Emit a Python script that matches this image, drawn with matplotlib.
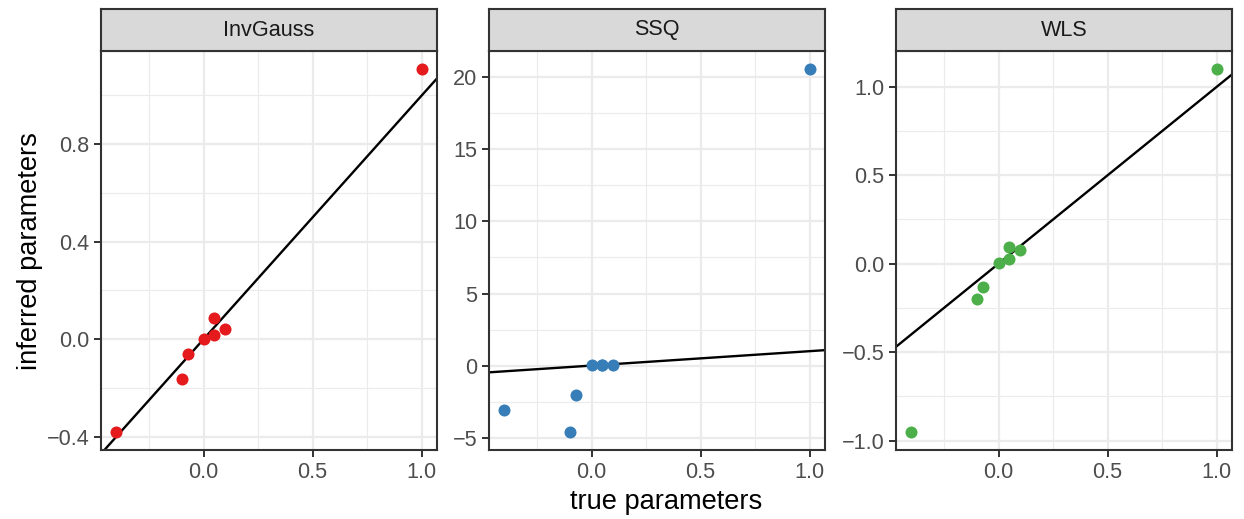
import matplotlib
matplotlib.use("Agg")
import matplotlib.pyplot as plt
from matplotlib.ticker import MultipleLocator, FuncFormatter

plt.rcParams['font.family'] = ['Liberation Sans', 'DejaVu Sans']

# ---- data ----
panels = ["InvGauss", "SSQ", "WLS"]
true_params = [-0.4, -0.1, -0.07, 0.0, 0.05, 0.05, 0.1, 1.0]
invgauss = [-0.38, -0.163, -0.059, 0.001, 0.089, 0.019, 0.041, 1.108]
ssq = [-3.09, -4.6, -2.06, 0.02, 0.02, 0.02, 0.02, 20.57]
wls = [-0.951, -0.20, -0.134, 0.006, 0.094, 0.024, 0.075, 1.10]
colors = ["#E41A1C", "#377EB8", "#4DAF4A"]
y_major = [0.4, 5, 0.5]
y_minor = [0.2, 2.5, 0.25]
y_fmt = ["%.1f", "%d", "%.1f"]

W, H = 1244, 519
fig = plt.figure(figsize=(W / 100, H / 100), dpi=100)

lefts = [101, 489, 896]
pw = 336
ptop, pbot = 51, 450
stop = 9

tick_fs = 15.6
title_fs = 19.6
edge = "#333333"

def expand(lo, hi, f=0.05):
    r = hi - lo
    return lo - f * r, hi + f * r

def make_fmt(fmt):
    def f(v, pos):
        if abs(v) < 1e-9:
            v = 0.0
        s = fmt % v
        return s.replace("-", "\u2212")
    return FuncFormatter(f)

for i, (name, yv) in enumerate(zip(panels, [invgauss, ssq, wls])):
    x0 = lefts[i]
    ax = fig.add_axes([x0 / W, (H - pbot) / H, pw / W, (pbot - ptop) / H])
    ax.set_facecolor("white")
    ax.set_xlim(*expand(min(true_params), max(true_params)))
    ax.set_ylim(*expand(min(yv), max(yv)))
    ax.xaxis.set_major_locator(MultipleLocator(0.5))
    ax.xaxis.set_minor_locator(MultipleLocator(0.25))
    ax.yaxis.set_major_locator(MultipleLocator(y_major[i]))
    ax.yaxis.set_minor_locator(MultipleLocator(y_minor[i]))
    ax.xaxis.set_major_formatter(make_fmt("%.1f"))
    ax.yaxis.set_major_formatter(make_fmt(y_fmt[i]))
    ax.grid(True, which="major", color="#EBEBEB", linewidth=1.6, zorder=0)
    ax.grid(True, which="minor", color="#EBEBEB", linewidth=0.8, zorder=0)
    ax.set_axisbelow(True)
    ax.tick_params(which="major", length=4.9, width=1.4, color=edge,
                   labelsize=tick_fs, labelcolor="#4D4D4D", pad=3.5)
    ax.tick_params(which="minor", length=0)
    for s in ax.spines.values():
        s.set_color(edge)
        s.set_linewidth(1.5)
    ax.axline((0, 0), slope=1, color="black", linewidth=1.7, zorder=2)
    ax.scatter(true_params, yv, s=75, color=colors[i], linewidths=0, zorder=3)

    # strip
    sax = fig.add_axes([x0 / W, (H - ptop) / H, pw / W, (ptop - stop) / H])
    sax.set_facecolor("#D9D9D9")
    sax.set_xticks([])
    sax.set_yticks([])
    for s in sax.spines.values():
        s.set_color(edge)
        s.set_linewidth(1.5)
    sax.text(0.5, 0.5, name, ha="center", va="center", fontsize=tick_fs,
             color="#1A1A1A", transform=sax.transAxes)

fig.text(666 / W, 1 - 502 / H, "true parameters", ha="center", va="center",
         fontsize=title_fs, color="black")
fig.text(30 / W, 1 - 251 / H, "inferred parameters", ha="center", va="center",
         rotation=90, fontsize=title_fs, color="black")

fig.savefig("out.png", dpi=100, facecolor="white")
